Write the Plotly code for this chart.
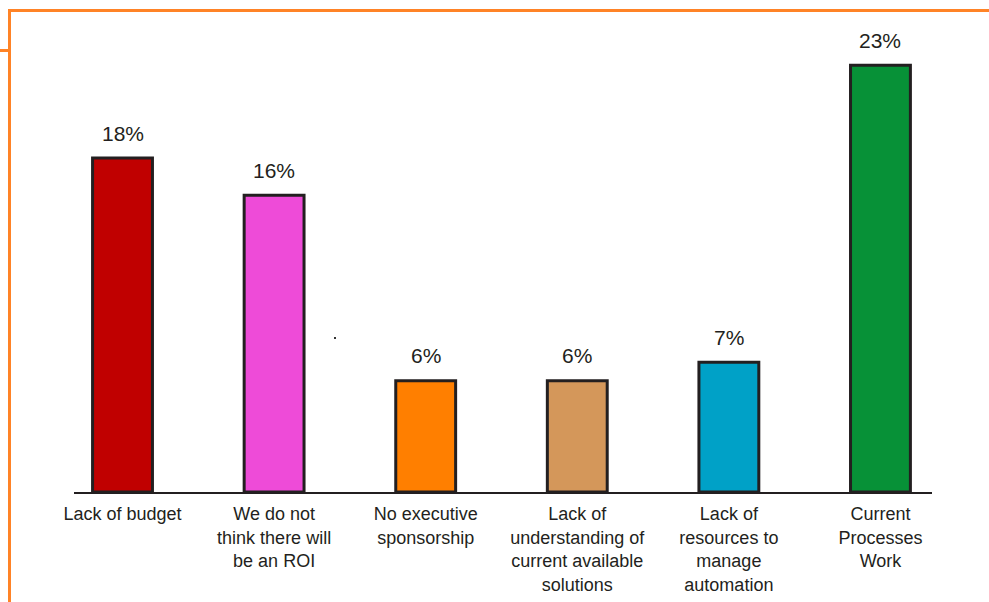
import plotly.graph_objects as go

categories = ["Lack of budget", "We do not<br>think there will<br>be an ROI", "No executive<br>sponsorship",
              "Lack of<br>understanding of<br>current available<br>solutions",
              "Lack of<br>resources to<br>manage<br>automation", "Current<br>Processes<br>Work"]
values = [18, 16, 6, 6, 7, 23]
labels = ["18%", "16%", "6%", "6%", "7%", "23%"]
colors = ["#C00000", "#EE4BD8", "#FF7F00", "#D4975A", "#00A1C7", "#079137"]

W, H = 989, 602
L, R, T, B = 74, 57, 20, 110
pw, ph = W - L - R, H - T - B

def px(x):
    return (x - L) / pw

def py(y):
    return (H - B - y) / ph

fig = go.Figure()
fig.add_trace(go.Bar(
    x=list(range(len(categories))), y=values,
    marker=dict(color=colors, line=dict(color="#231F20", width=3)),
    width=0.395,
))

for i, (v, t) in enumerate(zip(values, labels)):
    fig.add_annotation(x=i, y=v, text=t, showarrow=False, yanchor="middle", yshift=25,
                       font=dict(size=21, color="#231F20", family="Liberation Sans, Arial"))

orange = "#FF8326"
shapes = [
    dict(type="line", xref="paper", yref="paper", x0=px(8), x1=px(989), y0=py(10.5), y1=py(10.5),
         line=dict(color=orange, width=3)),
    dict(type="line", xref="paper", yref="paper", x0=px(9.5), x1=px(9.5), y0=py(9), y1=py(602),
         line=dict(color=orange, width=3)),
    dict(type="line", xref="paper", yref="paper", x0=px(0), x1=px(9), y0=py(50.5), y1=py(50.5),
         line=dict(color=orange, width=3)),
    dict(type="rect", xref="paper", yref="paper", x0=px(334), x1=px(336), y0=py(339), y1=py(337),
         fillcolor="#333333", line=dict(width=0)),
]

fig.update_layout(
    width=W, height=H,
    margin=dict(l=L, r=R, t=T, b=B, pad=0, autoexpand=False),
    paper_bgcolor="white", plot_bgcolor="white",
    showlegend=False,
    shapes=shapes,
    font=dict(family="Liberation Sans, Arial", color="#231F20"),
    xaxis=dict(
        range=[-0.32, 5.34], tickmode="array", tickvals=list(range(len(categories))),
        ticktext=categories, showline=True, linecolor="#231F20", linewidth=1.5,
        showgrid=False, zeroline=False, ticks="", tickfont=dict(size=18, color="#231F20"),
        ticklabelstandoff=5, automargin=False,
    ),
    yaxis=dict(range=[0, 25.44], visible=False, showgrid=False, zeroline=False, automargin=False),
)

fig.write_html("out.html")
